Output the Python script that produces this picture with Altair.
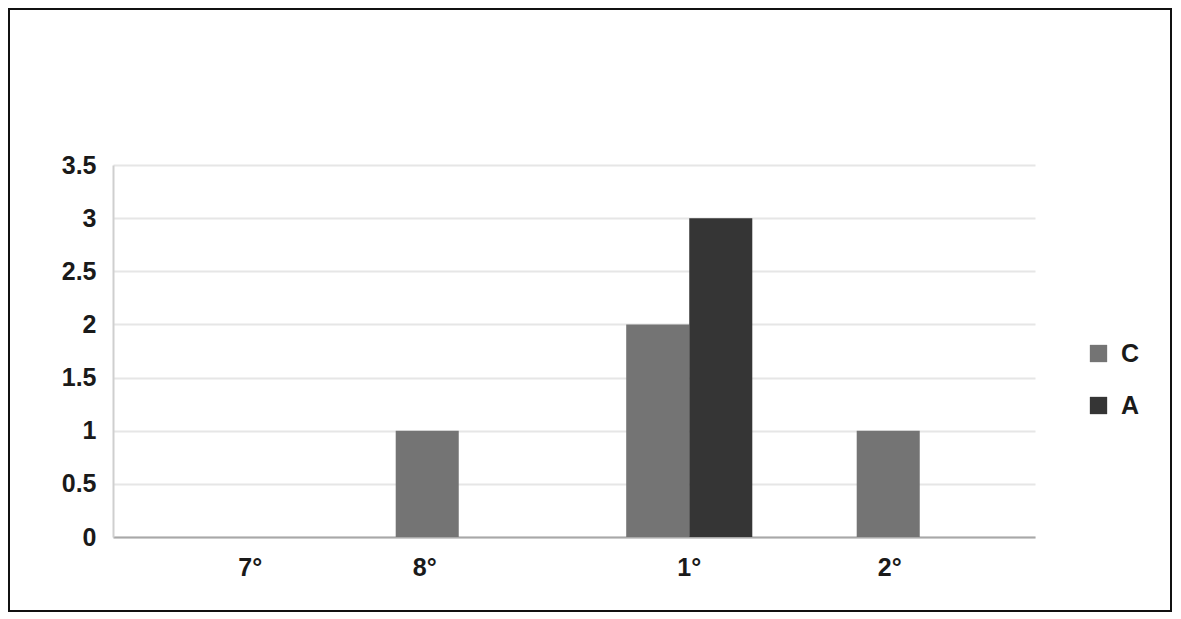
import altair as alt
import pandas as pd

categories = ["7°", "8°", "1°", "2°"]
series = ["C", "A"]
c_values = [0, 1, 2, 1]
a_values = [0, 0, 3, 0]
y_ticks = [0, 0.5, 1, 1.5, 2, 2.5, 3, 3.5]

rows = []
for cat, c, a in zip(categories, c_values, a_values):
    rows.append({"cat": cat, "series": "C", "value": c})
    rows.append({"cat": cat, "series": "A", "value": a})
df = pd.DataFrame(rows)

FONT = "Liberation Sans"
W, H = 922, 372
PAD_L, PAD_T, PAD_R, PAD_B = 105, 157, 137, 75

bars = alt.Chart(df).mark_bar().encode(
    x=alt.X("cat:N", sort=categories, title=None,
            scale=alt.Scale(paddingInner=0.453, paddingOuter=0.2265),
            axis=alt.Axis(labelAngle=0, ticks=False, domainColor="#a8a8a8", domainWidth=2,
                          labelFont=FONT, labelFontWeight="bold", labelFontSize=25,
                          labelColor="#1a1a1a", labelPadding=18, grid=False,
                          labelOffset={"condition": {"test": "datum.value === '7°'", "value": 22},
                                       "expr": "datum.value === '8°' ? -34 : (datum.value === '2°' ? -30 : 0)"})),
    xOffset=alt.XOffset("series:N", sort=series, scale=alt.Scale(paddingInner=0, paddingOuter=0)),
    y=alt.Y("value:Q", title=None, scale=alt.Scale(domain=[0, 3.5], nice=False),
            axis=alt.Axis(values=y_ticks, format="~g", ticks=False, domainColor="#cfcfcf", domainWidth=2,
                          gridColor="#e6e6e6", gridWidth=2,
                          labelFont=FONT, labelFontWeight="bold", labelFontSize=25,
                          labelColor="#1a1a1a", labelPadding=17)),
    color=alt.Color("series:N", sort=series,
                    scale=alt.Scale(domain=series, range=["#747474", "#353535"]),
                    legend=alt.Legend(title=None, orient="none", legendX=973, legendY=176,
                                      symbolType="square", symbolSize=300, symbolStrokeWidth=0,
                                      labelFont=FONT, labelFontWeight="bold", labelFontSize=25,
                                      labelColor="#1a1a1a", rowPadding=26, labelOffset=10)),
)

frame = alt.Chart(alt.Data(values=[{}])).mark_rect(fill=None, stroke="#111111", strokeWidth=2).encode(
    x=alt.value(-PAD_L + 1), x2=alt.value(W + PAD_R - 1),
    y=alt.value(-PAD_T + 1), y2=alt.value(H + PAD_B - 1),
)

chart = alt.layer(bars, frame).properties(
    width=W, height=H,
    autosize=alt.AutoSizeParams(type="none"),
    padding={"left": PAD_L, "top": PAD_T, "right": PAD_R, "bottom": PAD_B},
    background="white",
).configure_view(stroke=None)

chart.save("out.html", embed_options={"renderer": "svg", "actions": False})
